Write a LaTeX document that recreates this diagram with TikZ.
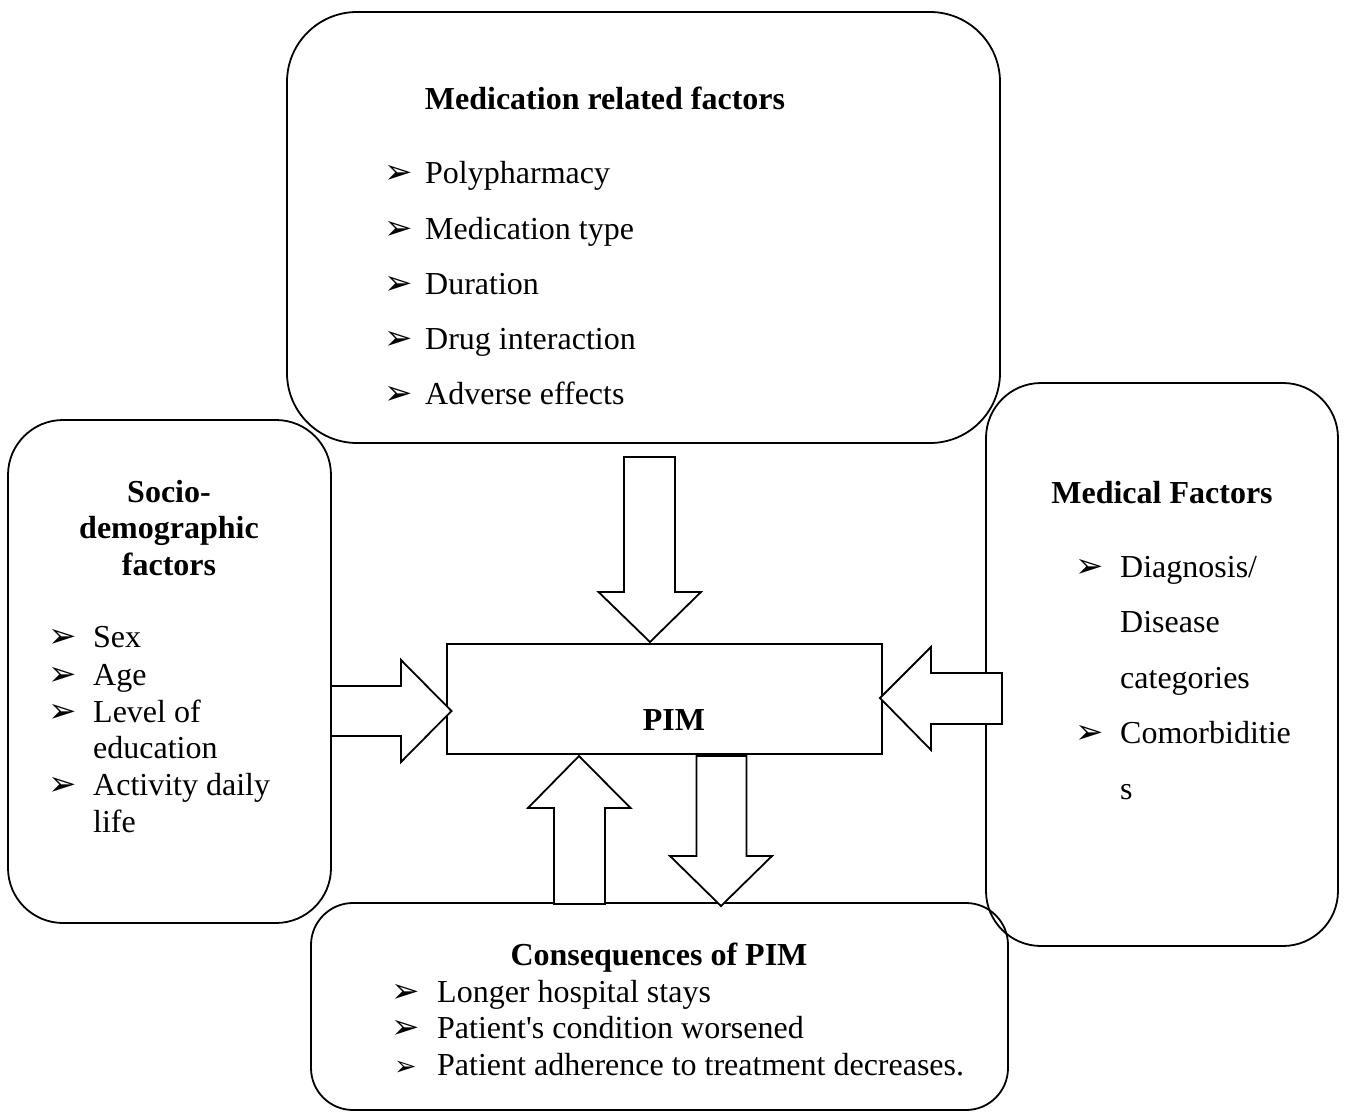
\documentclass[tikz,border=0pt]{standalone}
\usepackage{fontspec}
\setmainfont{Liberation Serif}[Ligatures=TeXOff]
\newfontfamily\dv{DejaVu Sans}
\newcommand{\bul}{{\dv\fontsize{34}{34}\selectfont ➢}}
\newcommand{\bulsm}{{\dv\fontsize{27}{27}\selectfont ➢}}
\tikzset{
  rbox/.style={draw, line width=1.8pt, inner sep=0pt},
  pimbox/.style={draw, line width=1.8pt, inner sep=0pt, fill=white},
  blockarrow/.style={draw, line width=1.8pt, fill=white, line join=miter},
  txt/.style={inner sep=0pt, anchor=base west, font=\fontsize{32}{37}\selectfont},
  ttl/.style={inner sep=0pt, anchor=base, font=\fontsize{32}{37}\selectfont\bfseries},
}
\begin{document}
\begin{tikzpicture}[x=1pt,y=-1pt]
\useasboundingbox (0,0) rectangle (1345,1113);
% boxes
\node[rbox, rounded corners=70pt, minimum width=713pt, minimum height=431pt] (med) at (643.5,227.5) {};
\node[rbox, rounded corners=55pt, minimum width=323pt, minimum height=503pt] (soc) at (169.5,671.5) {};
\node[rbox, rounded corners=55pt, minimum width=352pt, minimum height=563pt] (mdf) at (1162,664.5) {};
\node[rbox, rounded corners=42pt, minimum width=697pt, minimum height=207pt] (con) at (659.5,1006.5) {};
\node[pimbox, minimum width=435pt, minimum height=110pt] (pim) at (664.5,699) {};
% block arrows
\draw[blockarrow] (624,457) -- (675,457) -- (675,592) -- (701,592) -- (650,642) -- (598.5,592) -- (624,592) -- cycle;
\draw[blockarrow] (331,686) -- (401,686) -- (401,660) -- (451.5,711) -- (401,762) -- (401,736) -- (331,736) -- cycle;
\draw[blockarrow] (1002,673) -- (931,673) -- (931,647) -- (880,698) -- (931,750) -- (931,724) -- (1002,724) -- cycle;
\draw[blockarrow] (554,904) -- (554,808) -- (528,808) -- (579,756) -- (630.5,808) -- (605,808) -- (605,904) -- cycle;
\draw[blockarrow] (696.5,756) -- (746.5,756) -- (746.5,856) -- (772,856) -- (721,906) -- (670,856) -- (696.5,856) -- cycle;
% PIM
\node[ttl] (pimt) at (674,730) {PIM};
% medication related factors
\node[ttl] (medt) at (605,110) {Medication related factors};
\node[txt] (m1) at (384,184) {\makebox[41pt][l]{\bul}Polypharmacy};
\node[txt] (m2) at (384,239) {\makebox[41pt][l]{\bul}Medication type};
\node[txt] (m3) at (384,294) {\makebox[41pt][l]{\bul}Duration};
\node[txt] (m4) at (384,349) {\makebox[41pt][l]{\bul}Drug interaction};
\node[txt] (m5) at (384,404) {\makebox[41pt][l]{\bul}Adverse effects};
% socio-demographic
\node[ttl] (st1) at (169,502) {Socio-};
\node[ttl] (st2) at (169,538) {demographic};
\node[ttl] (st3) at (169,575) {factors};
\node[txt] (s1) at (48,647) {\makebox[45pt][l]{\bul}Sex};
\node[txt] (s2) at (48,685) {\makebox[45pt][l]{\bul}Age};
\node[txt] (s3) at (48,722) {\makebox[45pt][l]{\bul}Level of};
\node[txt] (s4) at (93,758) {education};
\node[txt] (s5) at (48,795) {\makebox[45pt][l]{\bul}Activity daily};
\node[txt] (s6) at (93,832) {life};
% medical factors
\node[ttl] (mdt) at (1162,503) {Medical Factors};
\node[txt] (d1) at (1075,577) {\makebox[45pt][l]{\bul}Diagnosis/};
\node[txt] (d2) at (1120,632) {Disease};
\node[txt] (d3) at (1120,688) {categories};
\node[txt] (d4) at (1075,743) {\makebox[45pt][l]{\bul}Comorbiditie};
\node[txt] (d5) at (1120,799) {s};
% consequences
\node[ttl] (ct) at (659,965) {Consequences of PIM};
\node[txt] (c1) at (391,1002) {\makebox[46pt][l]{\bul}Longer hospital stays};
\node[txt] (c2) at (391,1038) {\makebox[46pt][l]{\bul}Patient's condition worsened};
\node[txt] (c3) at (394,1075) {\makebox[43pt][l]{\bulsm}Patient adherence to treatment decreases.};
\end{tikzpicture}
\end{document}
